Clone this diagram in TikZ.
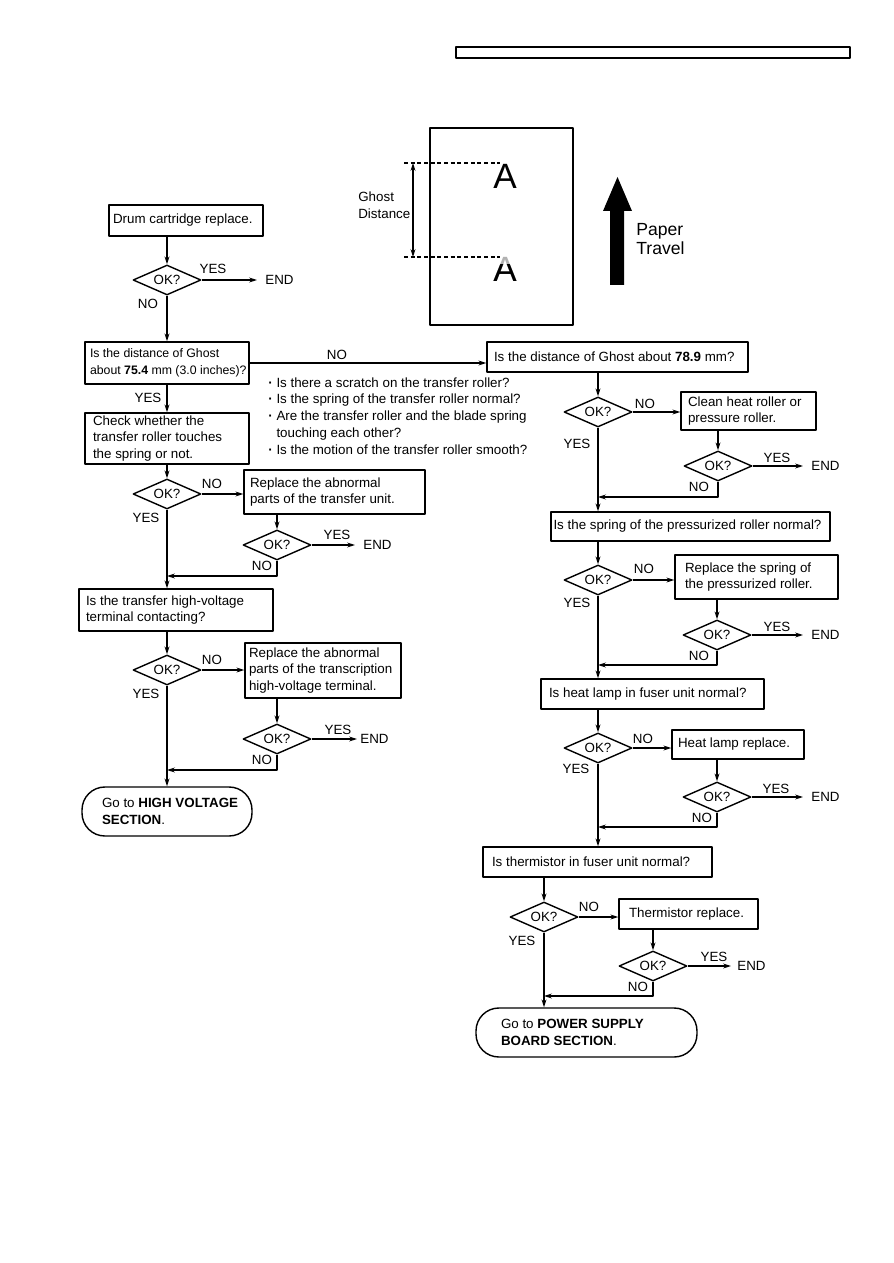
\documentclass[tikz,border=0pt]{standalone}
\usepackage{fontspec}
\setmainfont{Liberation Sans}
\usetikzlibrary{shapes.geometric,arrows.meta}
\hyphenpenalty=10000
\tikzset{
  box/.style={draw, line width=0.8pt, align=flush left, inner xsep=0.08cm, inner ysep=0pt},
  dec/.style={diamond, draw, line width=0.8pt, minimum width=1.36cm, minimum height=0.6cm, inner sep=0pt, shape aspect=2.3},
  term/.style={draw, line width=0.8pt, rounded corners=13pt, align=flush left, inner ysep=0pt, minimum height=0.98cm},
  lbl/.style={inner sep=0pt},
  endl/.style={anchor=west, inner xsep=0.16cm, inner ysep=0pt},
  conn/.style={->, line width=0.6pt}
}
\newcommand{\dotitem}{\textbf{\textperiodcentered}\ }
\begin{document}
\begin{tikzpicture}[x=0.02cm, y=-0.02cm, >={Stealth[length=4.5pt,width=2.8pt]}, font=\fontsize{7.6}{9.6}\selectfont, line join=round]
	\useasboundingbox (0,0) rectangle (893,1263);
	\draw[line width=0.6pt] (456,47) rectangle (850,58);
	% paper sketch
	\draw[line width=0.8pt] (430,128) rectangle (573,325);
	\coordinate (gtop) at (413,163); \coordinate (gbot) at (413,257);
	\draw[dashed, dash pattern=on 2.2pt off 1.6pt, line width=0.6pt] (404,163) -- (500,163);
	\draw[dashed, dash pattern=on 2.2pt off 1.6pt, line width=0.6pt] (404,257) -- (500,257);
	\draw[<->, line width=0.6pt] (gtop) -- (gbot);
	\node[anchor=west, align=left, inner sep=0pt] (gd) at (358,205) {Ghost\\Distance};
	\node[font=\fontsize{20}{20}\selectfont, inner sep=0pt] (a1) at (505,176) {A};
	\node[font=\fontsize{20}{20}\selectfont, inner sep=0pt, text=gray!60] (a2) at (505,269) {A};
	\begin{scope}
		\clip (480,265) rectangle (530,290);
		\node[font=\fontsize{20}{20}\selectfont, inner sep=0pt] at (505,269) {A};
	\end{scope}
	\fill (610,285) -- (610,211) -- (603,211) -- (617.5,177) -- (632,211) -- (624,211) -- (624,285) -- cycle;
	\node[anchor=west, align=left, inner sep=0pt, font=\fontsize{10}{11.3}\selectfont] (pt) at (636,239) {Paper\\Travel};
	% left column
	\node[box, text width=2.92cm, minimum height=0.62cm] (b1) at (186,220.5) {Drum cartridge replace.};
	\node[dec] (d1) at (167,280) {OK?};
	\node[endl] (e1) at (257,280) {END};
	\node[lbl] (y1) at (213,269) {YES};
	\node[lbl] (n1) at (148,304) {NO};
	\node[box, inner xsep=0.1cm, text width=3.08cm, minimum height=0.84cm, font=\fontsize{7.0}{9.6}\selectfont] (q1) at (167,363) {Is the distance of Ghost\\\mbox{about \textbf{75.4} mm (3.0 inches)?}};
	\node[lbl] (y2) at (148,398) {YES};
	\node[box, inner xsep=0.16cm, text width=2.96cm, minimum height=1.02cm] (c1) at (167,438.5) {Check whether the\\transfer roller touches\\the spring or not.};
	\node[dec] (d2) at (167,494) {OK?};
	\node[lbl] (n3) at (212,484) {NO};
	\node[lbl] (y3) at (146,518) {YES};
	\node[box, inner xsep=0.12cm, text width=3.38cm, minimum height=0.88cm] (f1) at (334.5,492) {Replace the abnormal\\parts of the transfer unit.};
	\node[dec] (d3) at (277,545) {OK?};
	\node[lbl] (y4) at (337,535) {YES};
	\node[endl] (e2) at (355,545) {END};
	\node[lbl] (n4) at (262,566) {NO};
	\coordinate (m1) at (167,576);
	\node[box, inner xsep=0.14cm, text width=3.60cm, minimum height=0.84cm] (q2) at (176,610) {Is the transfer high-voltage\\terminal contacting?};
	\node[dec] (d4) at (167,670) {OK?};
	\node[lbl] (n5) at (212,660) {NO};
	\node[lbl] (y5) at (146,694) {YES};
	\node[box, inner xsep=0.08cm, text width=2.96cm, minimum height=1.10cm] (f2) at (323,670.5) {Replace the abnormal\\parts of the transcription\\high-voltage terminal.};
	\node[dec] (d5) at (277,739) {OK?};
	\node[lbl] (y6) at (338,730) {YES};
	\node[endl, inner xsep=0.06cm] (e3) at (357,739) {END};
	\node[lbl] (n6) at (262,760) {NO};
	\coordinate (m2) at (167,770);
	\node[term, text width=3.0cm, inner xsep=0.2cm] (t1) at (167,811.5) {\hspace*{0.2cm}Go to \textbf{HIGH VOLTAGE}\\\hspace*{0.2cm}\textbf{SECTION}.};
	% checks between
	\node[anchor=north west, align=left, inner sep=0pt] (chk) at (268,377) {\dotitem Is there a scratch on the transfer roller?\\\dotitem Is the spring of the transfer roller normal?\\\dotitem Are the transfer roller and the blade spring\\\phantom{\dotitem}touching each other?\\\dotitem Is the motion of the transfer roller smooth?};
	% right column
	\node[box, inner xsep=0.14cm, text width=4.94cm, minimum height=0.60cm] (r1) at (617.5,357) {Is the distance of Ghost about \textbf{78.9} mm?};
	\node[lbl] (n2) at (337,355) {NO};
	\node[dec] (rd1) at (598,412) {OK?};
	\node[lbl] (n7) at (645,404) {NO};
	\node[lbl] (y7) at (577,444) {YES};
	\node[box, inner xsep=0.14cm, text width=2.42cm, minimum height=0.76cm] (g1) at (748.5,411) {Clean heat roller or\\pressure roller.};
	\node[dec] (rd2) at (718,466) {OK?};
	\node[lbl] (y8) at (777,458) {YES};
	\node[endl] (e4) at (803,466) {END};
	\node[lbl] (n8) at (699,487) {NO};
	\coordinate (m3) at (598,497);
	\node[box, inner xsep=0.05cm, text width=5.48cm, minimum height=0.58cm] (r2) at (690.5,526.5) {Is the spring of the pressurized roller normal?};
	\node[dec] (rd3) at (598,580) {OK?};
	\node[lbl] (n9) at (644,569) {NO};
	\node[lbl] (y9) at (577,603) {YES};
	\node[box, inner xsep=0.2cm, text width=2.86cm, minimum height=0.88cm] (g2) at (756.5,577) {Replace the spring of\\the pressurized roller.};
	\node[dec] (rd4) at (717,635) {OK?};
	\node[lbl] (y10) at (777,627) {YES};
	\node[endl] (e5) at (803,635) {END};
	\node[lbl] (n10) at (699,656) {NO};
	\coordinate (m4) at (598,665);
	\node[box, inner xsep=0.16cm, text width=4.14cm, minimum height=0.60cm] (r3) at (652.5,694) {Is heat lamp in fuser unit normal?};
	\node[dec] (rd5) at (598,748) {OK?};
	\node[lbl] (n11) at (643,739) {NO};
	\node[lbl] (y11) at (576,769) {YES};
	\node[box, inner xsep=0.12cm, text width=2.40cm, minimum height=0.58cm] (g3) at (738,744.5) {Heat lamp replace.};
	\node[dec] (rd6) at (717,797) {OK?};
	\node[lbl] (y12) at (776,789) {YES};
	\node[endl] (e6) at (803,797) {END};
	\node[lbl] (n12) at (702,818) {NO};
	\coordinate (m5) at (598,827);
	\node[box, inner xsep=0.18cm, text width=4.22cm, minimum height=0.60cm] (r4) at (597.5,862) {Is thermistor in fuser unit normal?};
	\node[dec] (rd7) at (544,917) {OK?};
	\node[lbl] (n13) at (589,907) {NO};
	\node[lbl] (y13) at (522,941) {YES};
	\node[box, inner xsep=0.2cm, text width=2.38cm, minimum height=0.60cm] (g4) at (688.5,914) {Thermistor replace.};
	\node[dec] (rd8) at (653,966) {OK?};
	\node[lbl] (y14) at (714,957) {YES};
	\node[endl, inner xsep=0.12cm] (e7) at (731,966) {END};
	\node[lbl] (n14) at (638,987) {NO};
	\coordinate (m6) at (544,996);
	\node[term, text width=3.42cm, inner xsep=0.5cm] (t2) at (586.5,1032.5) {Go to \textbf{POWER SUPPLY}\\\textbf{BOARD SECTION}.};
	% connectors left
	\draw[conn] (b1.south -| d1) -- (d1.north);
	\draw[conn] (d1.east) -- (e1.west);
	\draw[conn] (d1.south) -- (d1.south |- q1.north);
	\draw[conn] (q1.east) -- (q1.east -| r1.west);
	\draw[conn] (q1.south) -- (c1.north);
	\draw[conn] (c1.south) -- (d2.north);
	\draw[conn] (d2.east) -- (f1.west |- d2);
	\draw[conn] (f1.south -| d3) -- (d3.north);
	\draw[conn] (d3.east) -- (e2.west);
	\draw[conn] (d3.south) |- (m1);
	\draw[conn] (d2.south) -- (d2.south |- q2.north);
	\draw[conn] (q2.south -| d4) -- (d4.north);
	\draw[conn] (d4.east) -- (f2.west |- d4);
	\draw[conn] (f2.south -| d5) -- (d5.north);
	\draw[conn] (d5.east) -- (e3.west);
	\draw[conn] (d5.south) |- (m2);
	\draw[conn] (d4.south) -- (t1.north);
	% connectors right
	\draw[conn] (r1.south -| rd1) -- (rd1.north);
	\draw[conn] (rd1.east) -- (g1.west |- rd1);
	\draw[conn] (g1.south -| rd2) -- (rd2.north);
	\draw[conn] (rd2.east) -- (e4.west);
	\draw[conn] (rd2.south) |- (m3);
	\draw[conn] (rd1.south) -- (rd1.south |- r2.north);
	\draw[conn] (r2.south -| rd3) -- (rd3.north);
	\draw[conn] (rd3.east) -- (g2.west |- rd3);
	\draw[conn] (g2.south -| rd4) -- (rd4.north);
	\draw[conn] (rd4.east) -- (e5.west);
	\draw[conn] (rd4.south) |- (m4);
	\draw[conn] (rd3.south) -- (rd3.south |- r3.north);
	\draw[conn] (r3.south -| rd5) -- (rd5.north);
	\draw[conn] (rd5.east) -- (g3.west |- rd5);
	\draw[conn] (g3.south -| rd6) -- (rd6.north);
	\draw[conn] (rd6.east) -- (e6.west);
	\draw[conn] (rd6.south) |- (m5);
	\draw[conn] (rd5.south) -- (rd5.south |- r4.north);
	\draw[conn] (r4.south -| rd7) -- (rd7.north);
	\draw[conn] (rd7.east) -- (g4.west |- rd7);
	\draw[conn] (g4.south -| rd8) -- (rd8.north);
	\draw[conn] (rd8.east) -- (e7.west);
	\draw[conn] (rd8.south) |- (m6);
	\draw[conn] (rd7.south) -- (rd7.south |- t2.north);
\end{tikzpicture}
\end{document}
